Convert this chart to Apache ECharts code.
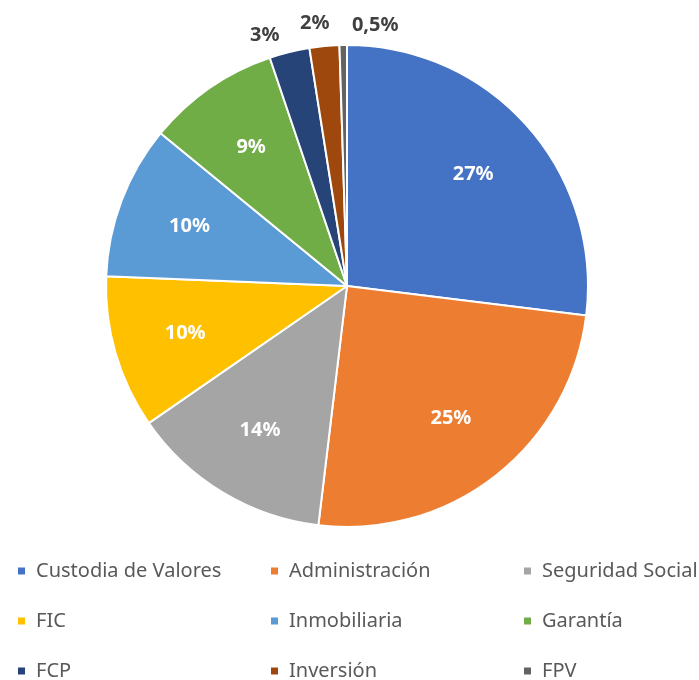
<!DOCTYPE html>
<html>
<head>
<meta charset="utf-8">
<script src="https://cdn.jsdelivr.net/npm/echarts@6/dist/echarts.min.js"></script>
<style>
    html, body { margin: 0; padding: 0; background: #fff; }
    #chart { width: 699px; height: 680px; }
</style>
</head>
<body>
<div id="chart"></div>
<script>
var categories = ['Custodia de Valores', 'Administración', 'Seguridad Social', 'FIC', 'Inmobiliaria', 'Garantía', 'FCP', 'Inversión', 'FPV'];
var values = [27, 25, 13.5, 10.3, 10.3, 8.9, 2.7, 2.0, 0.5];
var percentLabels = ['27%', '25%', '14%', '10%', '10%', '9%', '3%', '2%', '0,5%'];
var colors = ['#4472C4', '#ED7D31', '#A5A5A5', '#FFC000', '#5B9BD5', '#70AD47', '#264478', '#9E480E', '#636363'];

var font = '"Noto Sans", sans-serif';
var smallCount = 3; // last slices get their label outside

var mainData = categories.map(function (name, i) {
    var outside = i >= categories.length - smallCount;
    return {
        name: name,
        value: values[i],
        itemStyle: { color: colors[i] },
        label: { show: outside }
    };
});

var overlayData = categories.map(function (name, i) {
    var outside = i >= categories.length - smallCount;
    return {
        name: name,
        value: values[i],
        label: { show: !outside }
    };
});

// legend laid out as 3 rows of 3
var legendRows = [[0, 1, 2], [3, 4, 5], [6, 7, 8]];
var legendTop = [560, 610, 660];

var chart = echarts.init(document.getElementById('chart'));
chart.setOption({
    animation: false,
    legend: legendRows.map(function (row, r) {
        return {
            orient: 'horizontal',
            left: 16,
            top: legendTop[r],
            width: 690,
            padding: 0,
            itemWidth: 9,
            itemHeight: 9,
            itemGap: 0,
            icon: 'rect',
            data: row.map(function (i, k) {
                // last column needs no fixed width
                return { name: categories[i], textStyle: { width: k < 2 ? 233 : 150 } };
            }),
            textStyle: {
                color: '#595959', fontSize: 20, lineHeight: 22, fontFamily: font,
                padding: [0, 0, 0, 5]
            }
        };
    }),
    series: [{
        type: 'pie',
        center: [347, 286],
        radius: 241,
        startAngle: 90,
        clockwise: true,
        data: mainData,
        avoidLabelOverlap: false,
        itemStyle: { borderColor: '#fff', borderWidth: 2 },
        label: {
            position: 'outside',
            formatter: function (p) { return percentLabels[p.dataIndex]; },
            color: '#404040',
            fontSize: 20,
            fontWeight: 'bold',
            fontFamily: font
        },
        labelLine: { show: false, length: 20, length2: 0 },
        labelLayout: function (params) {
            // the tiniest slice's label sits to the right of the top
            if (params.dataIndex === categories.length - 1) {
                return { align: 'left', dx: 14 };
            }
            if (params.dataIndex === categories.length - 2) {
                return { dx: 12, dy: -3 };
            }
            return { dy: 3 };
        },
        emphasis: { disabled: true }
    }, {
        type: 'pie',
        center: [347, 286],
        radius: [90, 241],
        startAngle: 90,
        clockwise: true,
        silent: true,
        data: overlayData,
        itemStyle: { color: 'rgba(0,0,0,0)' },
        label: {
            position: 'inside',
            formatter: function (p) { return percentLabels[p.dataIndex]; },
            color: '#fff',
            fontSize: 20,
            fontWeight: 'bold',
            fontFamily: font
        },
        labelLine: { show: false },
        emphasis: { disabled: true },
        legendHoverLink: false
    }]
});
</script>
</body>
</html>
